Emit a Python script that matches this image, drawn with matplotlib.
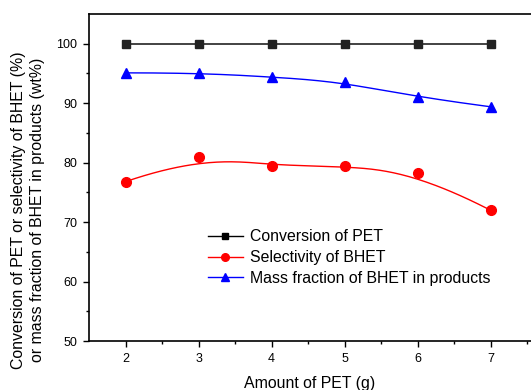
import numpy as np
import matplotlib.pyplot as plt

plt.rcParams['font.family'] = ['Liberation Sans', 'DejaVu Sans']

# data
amount = [2, 3, 4, 5, 6, 7]
conversion = [100, 100, 100, 100, 100, 100]
selectivity = [76.8, 81.0, 79.4, 79.5, 78.3, 72.0]
mass_fraction = [95.1, 95.1, 94.4, 93.6, 91.0, 89.4]


def bspline(xs, ys, n=200):
    # clamped cubic B-spline with the data points as control points (Origin style)
    pts = np.column_stack([xs, ys]).astype(float)
    k = 3
    m = len(pts)
    knots = np.concatenate([np.zeros(k), np.linspace(0, 1, m - k + 1), np.ones(k)])
    out = []
    for t in np.linspace(0, 1, n):
        t = min(t, 1 - 1e-12)
        s = np.searchsorted(knots, t, side='right') - 1
        d = [pts[j + s - k].copy() for j in range(k + 1)]
        for r in range(1, k + 1):
            for j in range(k, r - 1, -1):
                i = j + s - k
                a = (t - knots[i]) / (knots[i + k + 1 - r] - knots[i])
                d[j] = (1 - a) * d[j - 1] + a * d[j]
        out.append(d[k])
    out = np.array(out)
    return out[:, 0], out[:, 1]


fig = plt.figure(figsize=(5.31, 3.9), dpi=100)
ax = fig.add_axes([89 / 531, 49 / 390, 1 - 89 / 531, 327 / 390])

ax.plot(amount, conversion, color='#222222', lw=1.2, marker='s', ms=6)

sx, sy = bspline(amount, selectivity)
ax.plot(sx, sy, color='red', lw=1.0)
ax.plot(amount, selectivity, ls='none', color='red', marker='o', ms=7)

mx, my = bspline(amount, mass_fraction)
ax.plot(mx, my, color='blue', lw=1.0)
ax.plot(amount, mass_fraction, ls='none', color='blue', marker='^', ms=7.5)

# legend proxies with the smaller markers of the reference
ax.plot([], [], color='black', lw=1.0, marker='s', ms=5, label='Conversion of PET')
ax.plot([], [], color='red', lw=1.0, marker='o', ms=5.5, label='Selectivity of BHET')
ax.plot([], [], color='blue', lw=1.0, marker='^', ms=5.5,
        label='Mass fraction of BHET in products')

ax.set_xlim(1.5, 1.5 + 442 / 73)
ax.set_ylim(50, 105)
ax.set_xticks(amount)
ax.set_xticks([2.5, 3.5, 4.5, 5.5, 6.5, 7.5], minor=True)
ax.set_yticks([50, 60, 70, 80, 90, 100])
ax.set_yticks([55, 65, 75, 85, 95], minor=True)
ax.tick_params(which='major', direction='out', length=4, width=1, labelsize=9, pad=4.5)
ax.tick_params(which='minor', direction='out', length=2.5, width=1)
ax.spines['right'].set_visible(False)
for sp in ['left', 'bottom', 'top']:
    ax.spines[sp].set_linewidth(1.2)

ax.set_xlabel('Amount of PET (g)', fontsize=11.4, labelpad=8)
ax.set_ylabel('Conversion of PET or selectivity of BHET (%)\nor mass fraction of BHET in products (wt%)',
              fontsize=11.4, linespacing=1.3)
ax.yaxis.set_label_coords(-0.1, 0.40)

ax.legend(loc='upper left', bbox_to_anchor=(0.269, 0.341), frameon=False,
          fontsize=11.4, handlelength=2.2, handletextpad=0.45, labelspacing=0.36,
          borderaxespad=0, borderpad=0)

fig.savefig('out.png', dpi=100)
